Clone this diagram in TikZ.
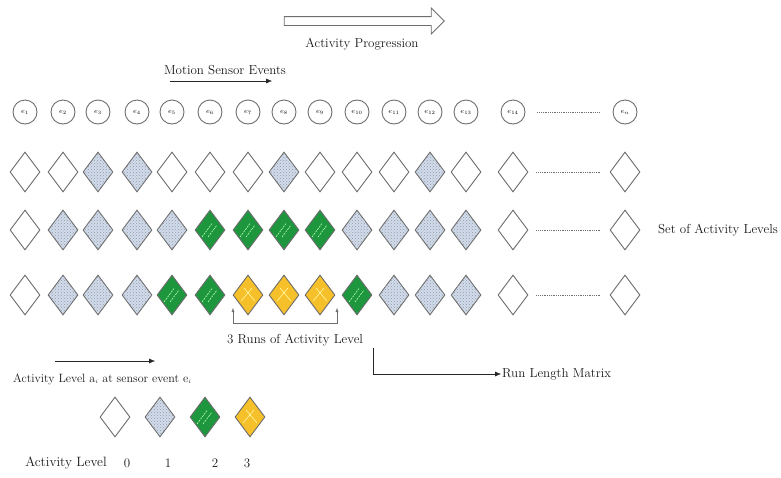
\documentclass[tikz,border=0pt]{standalone}
\usepackage{amsmath,amssymb}
\usepackage{tikz}
\usetikzlibrary{positioning}
\usetikzlibrary{shapes,shapes.geometric,shapes.arrows,arrows,calc,patterns,arrows.meta}
\definecolor{lvlblue}{RGB}{208,220,238}
\definecolor{lvlgreen}{RGB}{30,150,62}
\definecolor{lvlyellow}{RGB}{246,192,42}
\definecolor{edge}{RGB}{110,110,110}
\tikzset{
	>={Latex[length=6pt,width=5pt]}, semithick,
	txt/.style = {font=\fontsize{13}{15}\selectfont, text=black!90, inner sep=1pt},
	evt/.style = {circle, draw=edge, line width=0.9pt, minimum size=24pt, inner sep=0pt,
	 font=\fontsize{7.5}{8}\selectfont},
	lvl/.style = {diamond, draw=edge, line width=0.9pt, minimum width=30pt,
	 minimum height=40pt, inner sep=0pt},
	lvl0/.style = {lvl, fill=white},
	lvl1/.style = {lvl, fill=lvlblue,
	 postaction={pattern=crosshatch dots, pattern color=edge!70}},
	lvl2/.style = {lvl, fill=lvlgreen, path picture={
	 \draw[green!30!white, line width=0.6pt, dash pattern=on 2pt off 1pt]
	  ([shift={(-8pt,-7pt)}]path picture bounding box.center) --
	  ([shift={(2pt,6.5pt)}]path picture bounding box.center)
	  ([shift={(-2pt,-7pt)}]path picture bounding box.center) --
	  ([shift={(7pt,5pt)}]path picture bounding box.center);}},
	lvl3/.style = {lvl, fill=lvlyellow, path picture={
	 \draw[yellow!35!white, line width=0.6pt]
	  ([shift={(-7pt,-6pt)}]path picture bounding box.center) --
	  ([shift={(4pt,7pt)}]path picture bounding box.center)
	  ([shift={(7pt,-6pt)}]path picture bounding box.center) --
	  ([shift={(-4pt,7pt)}]path picture bounding box.center);}},
	gap/.style = {edge, dash pattern=on 1pt off 0.8pt, thin},
}

\begin{document}
\begin{tikzpicture}[x=1pt, y=-1pt]
	\useasboundingbox (0,0) rectangle (781,477);
	% activity progression
	\node (prog) [single arrow, draw=edge, line width=0.8pt, fill=white,
	 minimum height=160pt, minimum width=25pt, inner sep=4pt,
	 single arrow head extend=8.5pt] at (362,21) {};
	\node (progl) [txt] at (362,44) {Activity Progression};
	% motion sensor events
	\node (mse) [txt] at (225,70) {Motion Sensor Events};
	\coordinate (msa) at (170,81);
	\coordinate (msb) at (272,81);
	\draw[->, black!85] (msa) -- (msb);
	% events and activity levels
	\foreach \x/\lab/\p/\q/\r [count=\i] in {25/1/0/0/0, 63/2/0/1/1, 98/3/1/1/1,
	 137/4/1/1/1, 172/5/0/1/2, 210/6/0/2/2, 248/7/0/2/3, 284/8/1/2/3,
	 320/9/0/2/3, 357/10/0/1/2, 394/11/0/1/1, 430/12/1/1/1, 466/13/0/1/1,
	 513/14/0/0/0, 625/n/0/0/0}{
		\node (ev\i) [evt] at (\x,112) {$e_{\lab}$};
		\node (la\i) [lvl\p] at (\x,172) {};
		\node (lb\i) [lvl\q] at (\x,230) {};
		\node (lc\i) [lvl\r] at (\x,295) {};
	}
	\draw[gap, shorten <=12pt, shorten >=13pt] (ev14) -- (ev15);
	\foreach \row in {la,lb,lc}
		\draw[gap, shorten <=8pt, shorten >=10pt] (\row14) -- (\row15);
	\node (set) [txt, anchor=east] at (779,230) {Set of Activity Levels};
	% runs
	\coordinate (runl) at (233,308);
	\coordinate (runr) at (337,308);
	\draw[<->, edge, thin, >={Latex[length=4pt,width=3pt]}] (runl) -- ++(0,15) -| (runr);
	\node (runs) [txt] at (295,340) {3 Runs of Activity Level};
	\coordinate (rls) at (373,348);
	\node (rlm) [txt, anchor=west] at (501,374) {Run Length Matrix};
	\draw[->, black!85, thin] (rls) |- (rlm.west);
	% activity level at sensor event
	\coordinate (ala) at (55,361);
	\coordinate (alb) at (155,361);
	\draw[->, black!85] (ala) -- (alb);
	\node (ail) [txt, anchor=west, font=\fontsize{12}{14}\selectfont] at (12,379)
	 {Activity Level a$_{\scriptscriptstyle i}$ at sensor event e$_{\scriptscriptstyle i}$};
	% legend
	\foreach \x [count=\i from 0] in {115,160,205,250}
		\node (lg\i) [lvl\i] at (\x,417) {};
	\node (lgl) [txt, font=\fontsize{13.5}{15}\selectfont] at (66,463) {Activity Level};
	\foreach \x [count=\i from 0] in {127,168,215,247}
		\node (lgn\i) [txt] at (\x,463) {\i};
\end{tikzpicture}
\end{document}
